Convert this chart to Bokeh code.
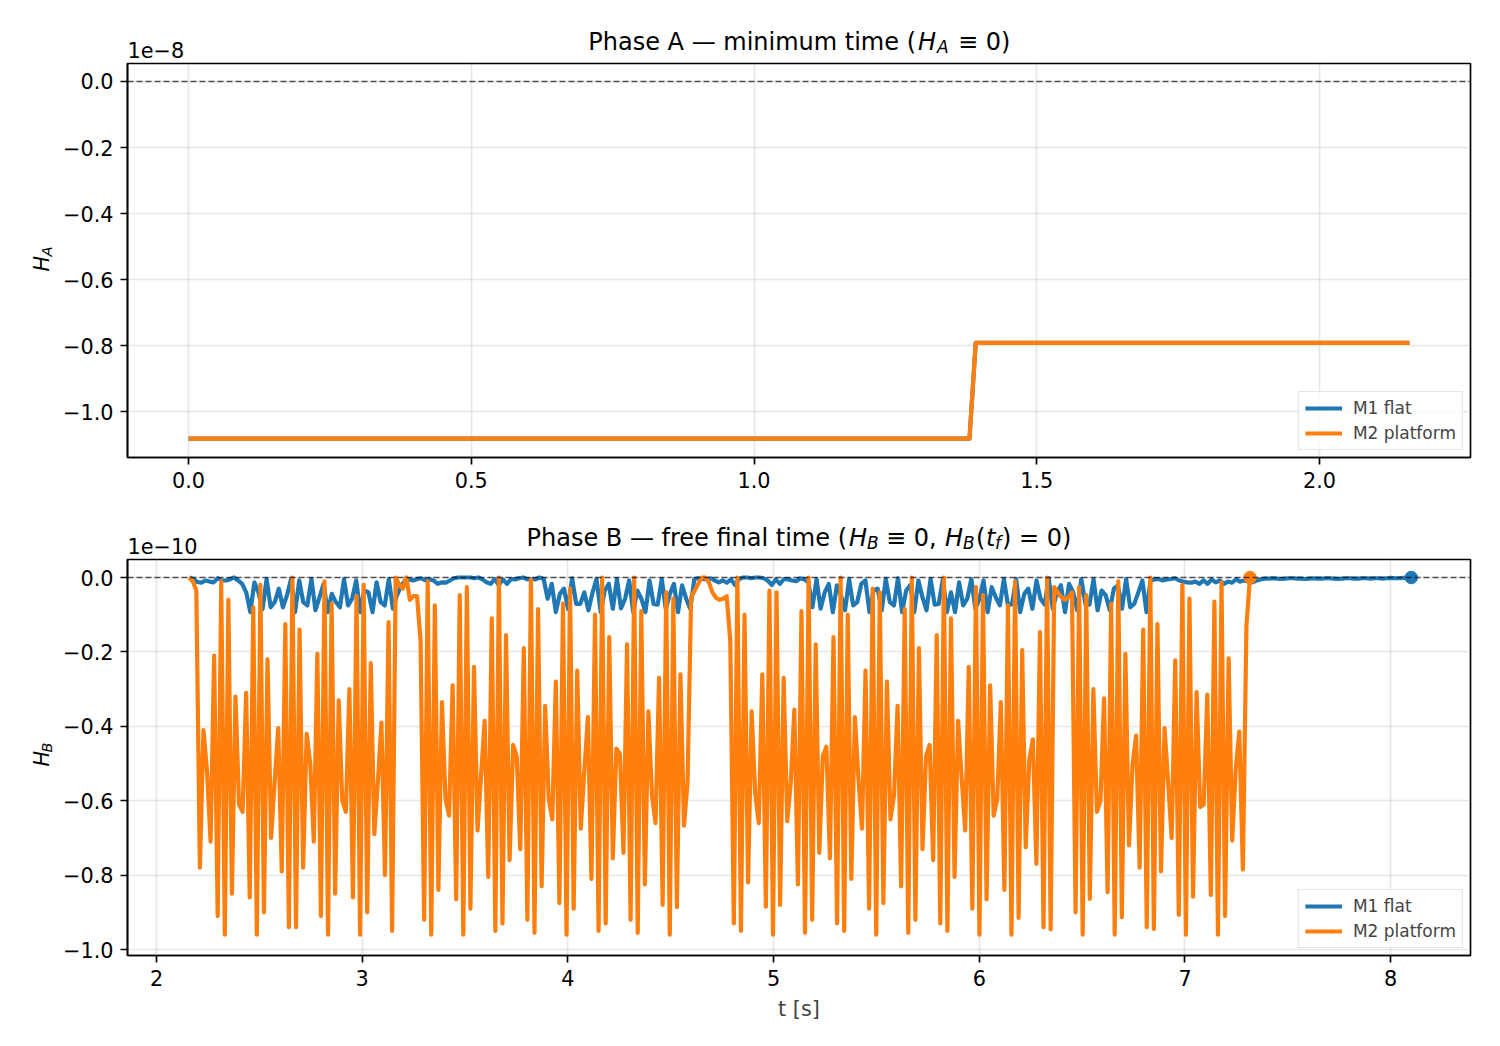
import numpy as np
from bokeh.plotting import figure
from bokeh.layouts import column, row
from bokeh.models import Range1d, Span, Label, Legend, LegendItem, CustomJSTickFormatter
from bokeh.embed import file_html
from bokeh.resources import INLINE

BLUE = "#1f77b4"
ORANGE = "#ff7f0e"
FONT = "DejaVu Sans"

# Phase A: Hamiltonian, in units of 1e-8 (both models coincide)
ta = [0.0, 1.381, 1.392, 2.159]
ha_m1 = [-1.082, -1.082, -0.792, -0.792]
ha_m2 = [-1.082, -1.082, -0.792, -0.792]

# Phase B: Hamiltonian, in units of 1e-10, sampled on a uniform time grid
tb_start = 2.159
tf_m1 = 8.10
tf_m2 = 7.316

hb_m1 = [
    0.0, -0.004, -0.012, -0.014, -0.008, -0.011, -0.013, -0.002, -0.008, -0.008, -0.005, 0.0, -0.008,
    -0.017, -0.04, -0.093, -0.013, -0.04, -0.085, -0.004, -0.08, -0.066, -0.03, -0.08, -0.048, -0.004,
    -0.093, -0.008, -0.066, -0.075, -0.004, -0.088, -0.053, -0.017, -0.093, -0.044, -0.066,
    -0.08, -0.004, -0.075, -0.057, -0.008, -0.093, -0.035, -0.04, -0.093, -0.013, -0.066, -0.075, -0.004,
    -0.084, -0.048, -0.023, -0.008, -0.005, -0.008, -0.004, -0.002, -0.008, -0.005, -0.008, -0.017,
    -0.013, -0.014, -0.008, -0.002, 0.0, 0.0, 0.0, 0.0, -0.002, 0.0, -0.005, -0.013,
    -0.017, -0.004, -0.02, -0.005, -0.017, -0.004, -0.005, -0.002, 0.0, -0.005, -0.004, -0.005, 0.0,
    -0.004, -0.057, -0.017, -0.093, -0.044, -0.03, -0.084, -0.002, -0.071, -0.071, -0.04, -0.088, -0.041,
    -0.004, -0.093, -0.035, -0.017, -0.084, -0.004, -0.083, -0.057, -0.008, -0.093, -0.035, -0.057,
    -0.093, -0.008, -0.071, -0.073, -0.004, -0.084, -0.044, -0.017, -0.093, -0.021, -0.057, -0.084,
    -0.004, -0.002, -0.004, -0.005, -0.002, -0.008, -0.013, -0.008, -0.014, -0.005, -0.02, -0.004, 0.0,
    0.0, -0.002, 0.0, 0.0, -0.002, -0.008, -0.02, -0.005, -0.017, -0.004, -0.005, -0.008, -0.01,
    -0.002, -0.005, -0.013, -0.08, -0.004, -0.084, -0.04, -0.017, -0.093, -0.021, -0.048, -0.088, -0.005,
    -0.075, -0.066, -0.017, -0.008, -0.093, -0.035, -0.03, -0.088, -0.004, -0.066, -0.075, -0.002,
    -0.093, -0.035, -0.021, -0.093, -0.008, -0.053, -0.088, -0.004, -0.073, -0.071, -0.005, -0.093, -0.04,
    -0.093, -0.013, -0.075, -0.057, -0.004, -0.084, -0.057, -0.008, -0.093, -0.026, -0.053, -0.075,
    -0.004, -0.075, -0.071, -0.004, -0.093, -0.044, -0.03, -0.084, -0.008, -0.057, -0.073, -0.002,
    -0.084, -0.04, -0.021, -0.093, -0.017, -0.04, -0.088, -0.004, -0.071, -0.073, -0.005, -0.088,
    -0.035, -0.048,
    -0.088, -0.03, -0.021, -0.084, -0.004, -0.08, -0.071, -0.04, -0.008, -0.093, -0.008, -0.005, -0.004,
    -0.008, -0.005, -0.004, -0.002, -0.008, -0.011, -0.013, -0.014, -0.011, -0.017, -0.008, -0.017,
    -0.005, -0.013, -0.008, -0.017, -0.011, -0.014, -0.005, -0.011, -0.008, -0.011, -0.013, -0.008,
    -0.005, -0.003,
    -0.003, -0.002, -0.003, -0.004, -0.003, -0.002, -0.002, -0.003, -0.003, -0.004, -0.003, -0.002,
    -0.003, -0.003, -0.002, -0.002, -0.003, -0.004, -0.003, -0.002, -0.002, -0.003, -0.003, -0.002,
    -0.002, -0.003, -0.002, -0.002, -0.003, -0.002, -0.001, -0.002, -0.002, -0.001, -0.001, 0.0,
]

hb_m2 = [
    0.0, -0.01, -0.035, -0.78, -0.41, -0.52, -0.71, -0.21, -0.91, -0.01, -0.96, -0.06, -0.85, -0.32,
    -0.61, -0.63, -0.31, -0.86, -0.08, -0.96, -0.02, -0.90, -0.22, -0.70, -0.55, -0.405, -0.79, -0.125,
    -0.94, 0.0, -0.94, -0.14, -0.78, -0.42, -0.50, -0.71, -0.205, -0.91, -0.01, -0.96, -0.07, -0.85,
    -0.33, -0.60, -0.63, -0.30, -0.86, -0.05, -0.96, -0.02, -0.90, -0.23, -0.69, -0.55, -0.39, -0.80,
    -0.12, -0.95, 0.0, -0.02, -0.03, 0.0, -0.06, -0.05, -0.05, -0.17, -0.92, -0.01, -0.96, -0.075,
    -0.84, -0.335, -0.595, -0.64, -0.29, -0.865, -0.047, -0.96, -0.026, -0.89, -0.24, -0.68, -0.53,
    -0.385, -0.805, -0.11,
    -0.95, 0.0, -0.93, -0.155, -0.76, -0.45, -0.48, -0.73, -0.19, -0.92, -0.005, -0.955, -0.085, -0.83,
    -0.345, -0.595, -0.65, -0.28, -0.875, -0.07, -0.96, -0.03, -0.89, -0.25, -0.675, -0.52, -0.375,
    -0.81, -0.10, -0.95, 0.0, -0.93, -0.16, -0.755, -0.46, -0.475, -0.74, -0.18, -0.92, 0.0, -0.955,
    -0.09, -0.825, -0.36,
    -0.585, -0.66, -0.27, -0.88, -0.04, -0.96, -0.057, -0.886, -0.26, -0.667, -0.55, -0.053, -0.035,
    -0.017, 0.0, 0.0, -0.013, -0.04, -0.055, -0.06, -0.057, -0.05, -0.17, -0.93, 0.0, -0.95, -0.10,
    -0.82, -0.36, -0.58, -0.66, -0.26, -0.885, -0.035, -0.96, -0.04, -0.88, -0.27, -0.655, -0.55,
    -0.355, -0.825, -0.09,
    -0.955, 0.0, -0.92, -0.18, -0.74, -0.48, -0.455, -0.755, -0.16, -0.93, 0.0, -0.95, -0.10, -0.81,
    -0.375, -0.54, -0.675, -0.25, -0.89, -0.03, -0.96, -0.04, -0.875, -0.28, -0.65, -0.585, -0.345,
    -0.83, -0.085, -0.955, 0.0, -0.92, -0.19, -0.73, -0.48, -0.45, -0.76, -0.155, -0.93, 0.0, -0.95,
    -0.11, -0.805, -0.385,
    -0.54, -0.68, -0.24, -0.89, -0.026, -0.96, -0.047, -0.865, -0.29, -0.64, -0.595, -0.335, -0.84,
    -0.075, -0.96, -0.01, -0.915, -0.195, -0.725, -0.49, -0.435, -0.77, -0.147, -0.94, 0.0, -0.946,
    -0.026, -0.04, -0.053, -0.06, -0.053, -0.04, -0.90, -0.026, -0.96, -0.047, -0.864, -0.30, -0.63,
    -0.60, -0.325, -0.846, -0.07,
    -0.96, -0.01, -0.913, -0.205, -0.72, -0.505, -0.425, -0.78, -0.14, -0.94, 0.0, -0.945, -0.125,
    -0.79, -0.405, -0.55, -0.70, -0.223, -0.907, -0.02, -0.96, -0.057, -0.858, -0.308, -0.617, -0.61,
    -0.315, -0.853, -0.065, -0.96, -0.013, -0.91, -0.217, -0.707, -0.515, -0.414, -0.785, -0.13, 0.0,
]

tb_m1 = np.linspace(tb_start, tf_m1, len(hb_m1))
tb_m2 = np.linspace(tb_start, tf_m2, len(hb_m2))

# ticks
xticks_a = [0.0, 0.5, 1.0, 1.5, 2.0]
yticks_a = [0.0, -0.2, -0.4, -0.6, -0.8, -1.0]
xticks_b = [2, 3, 4, 5, 6, 7, 8]
yticks_b = [0.0, -0.2, -0.4, -0.6, -0.8, -1.0]

LW = 4.2
THIN = 1.67
TICK_FS = "20.8px"
TITLE_FS = "24px"
SUB_FS = "17px"


def fmt(digits):
    return CustomJSTickFormatter(code="return tick.toFixed(%d).replace('-', '\u2212')" % digits)


def style(p, xticks, yticks, xdig):
    p.xaxis.ticker = xticks
    p.yaxis.ticker = yticks
    p.xaxis.formatter = fmt(xdig)
    p.yaxis.formatter = fmt(1)
    p.axis.major_tick_out = 7
    p.axis.major_tick_in = 0
    p.axis.minor_tick_out = 0
    p.axis.minor_tick_in = 0
    p.axis.major_tick_line_width = THIN
    p.axis.axis_line_width = THIN
    p.axis.major_label_text_font = FONT
    p.axis.major_label_text_font_size = TICK_FS
    p.axis.major_label_text_color = "black"
    p.axis.major_label_standoff = 7
    p.outline_line_color = "black"
    p.outline_line_width = THIN
    p.outline_line_alpha = 1.0
    p.grid.grid_line_color = "#b0b0b0"
    p.grid.grid_line_alpha = 0.3
    p.grid.grid_line_width = THIN
    p.add_layout(Span(location=0, dimension="width", line_color="black", line_alpha=0.65,
                      line_width=1.3, line_dash="6 3"))


def add_legend(p, r1, r2):
    leg = Legend(items=[LegendItem(label="M1 flat", renderers=[r1]),
                        LegendItem(label="M2 platform", renderers=[r2])],
                 location="bottom_right")
    leg.label_text_font = FONT
    leg.label_text_font_size = "17px"
    leg.glyph_width = 37
    leg.glyph_height = 20
    leg.label_height = 20
    leg.label_standoff = 11
    leg.padding = 6
    leg.spacing = 5
    leg.margin = 7
    leg.border_line_color = "#cccccc"
    leg.border_line_width = THIN
    leg.background_fill_alpha = 0.8
    p.add_layout(leg)


def canvas(width, height, x0, y0):
    # blank strip whose data coordinates equal page pixels, for the header and side texts
    c = figure(width=width, height=height, x_range=Range1d(x0, x0 + width),
               y_range=Range1d(y0 + height, y0), min_border=0, x_axis_type=None, y_axis_type=None,
               toolbar_location=None, output_backend="svg")
    c.outline_line_color = None
    return c


def add_text(c, x, y, text, size=TITLE_FS, italic=False, align="left", baseline="alphabetic",
             angle=0.0):
    c.add_layout(Label(x=x, y=y, text=text, text_font=FONT, text_font_size=size,
                       text_font_style="italic" if italic else "normal", text_align=align,
                       text_baseline=baseline, angle=angle, text_color="black"))


# ---------------- Phase A ----------------
p1 = figure(width=1440, height=443, x_range=Range1d(-0.108, 2.267), y_range=Range1d(-1.139, 0.0545),
            min_border_left=67, min_border_right=30, min_border_top=1, min_border_bottom=48,
            toolbar_location=None, output_backend="svg")
style(p1, xticks_a, yticks_a, 1)
ra1 = p1.line(ta, ha_m1, line_color=BLUE, line_width=LW, line_join="round")
ra2 = p1.line(ta, ha_m2, line_color=ORANGE, line_width=LW, line_join="round")
add_legend(p1, ra1, ra2)

head1 = canvas(1500, 62, 0, 0)
ax = 915.5
add_text(head1, ax, 41, "Phase A \u2014 minimum time (", align="right")
add_text(head1, ax + 2, 41, "H", italic=True)
add_text(head1, ax + 21, 46, "A", size=SUB_FS, italic=True)
add_text(head1, ax + 42, 41, "\u2261 0)")
add_text(head1, 127, 57, "1e\u22128", size=TICK_FS, baseline="bottom")

side1 = canvas(60, 443, 0, 62)
add_text(side1, 41, 296, "H", size=TICK_FS, italic=True, baseline="middle", angle=np.pi / 2)
add_text(side1, 46, 279, "A", size="14.6px", italic=True, baseline="middle", angle=np.pi / 2)

# ---------------- Phase B ----------------
p2 = figure(width=1440, height=482, x_range=Range1d(1.859, 8.388), y_range=Range1d(-1.016, 0.0484),
            min_border_left=67, min_border_right=30, min_border_top=1, min_border_bottom=85,
            toolbar_location=None, output_backend="svg")
style(p2, xticks_b, yticks_b, 0)
rb1 = p2.line(tb_m1, hb_m1, line_color=BLUE, line_width=LW, line_join="round")
rb2 = p2.line(tb_m2, hb_m2, line_color=ORANGE, line_width=LW, line_join="round")
p2.scatter([tb_m1[-1]], [hb_m1[-1]], size=12.5, color=BLUE)
p2.scatter([tb_m2[-1]], [hb_m2[-1]], size=12.5, color=ORANGE)
add_legend(p2, rb1, rb2)
p2.xaxis.axis_label = "t [s]"
p2.xaxis.axis_label_text_font = FONT
p2.xaxis.axis_label_text_font_size = TICK_FS
p2.xaxis.axis_label_text_font_style = "normal"
p2.xaxis.axis_label_standoff = 8

head2 = canvas(1500, 53, 0, 505)
bx = 846.5
add_text(head2, bx, 537, "Phase B \u2014 free final time (", align="right")
add_text(head2, bx + 2, 537, "H", italic=True)
add_text(head2, bx + 20, 542, "B", size=SUB_FS, italic=True)
add_text(head2, bx + 39, 537, "\u2261 0,")
add_text(head2, bx + 98, 537, "H", italic=True)
add_text(head2, bx + 116, 542, "B", size=SUB_FS, italic=True)
add_text(head2, bx + 129, 537, "(")
add_text(head2, bx + 139, 537, "t", italic=True)
add_text(head2, bx + 148, 542, "f", size=SUB_FS, italic=True)
add_text(head2, bx + 155, 537, ") = 0)")
add_text(head2, 127, 553, "1e\u221210", size=TICK_FS, baseline="bottom")

side2 = canvas(60, 482, 0, 558)
add_text(side2, 41, 810, "H", size=TICK_FS, italic=True, baseline="middle", angle=np.pi / 2)
add_text(side2, 46, 793, "B", size="14.6px", italic=True, baseline="middle", angle=np.pi / 2)

p = column(head1, row(side1, p1), head2, row(side2, p2))
open("out.html", "w").write(file_html(p, INLINE))
